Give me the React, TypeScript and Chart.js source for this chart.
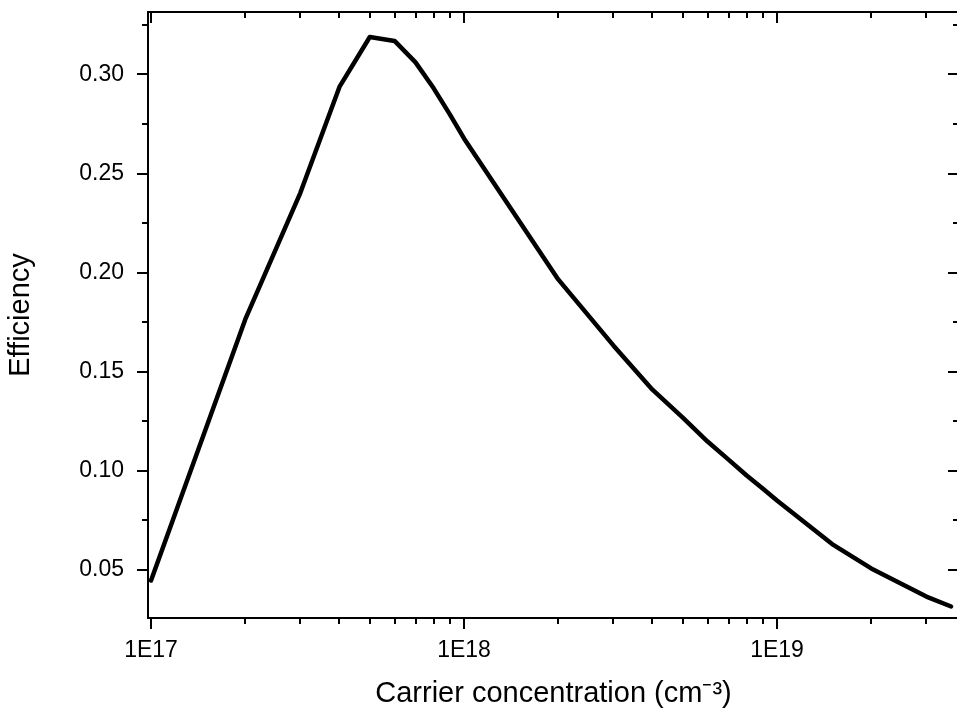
import React, { useEffect, useRef } from "react";
import { Chart, registerables } from "chart.js";

Chart.register(...registerables);

// Data
const CONCENTRATION = [
  1e17, 2e17, 3e17, 4e17, 5e17, 6e17, 7e17, 8e17, 9e17,
  1e18, 2e18, 3e18, 4e18, 5e18, 6e18, 7e18, 8e18, 9e18,
  1e19, 1.5e19, 2e19, 3e19, 3.6e19,
];
const EFFICIENCY = [
  0.0447, 0.1764, 0.2403, 0.2937, 0.3189, 0.3169, 0.3061, 0.2930, 0.2800,
  0.2677, 0.1966, 0.1633, 0.1410, 0.1269, 0.1148, 0.1057, 0.0977, 0.0911,
  0.0851, 0.0631, 0.0508, 0.0366, 0.0316,
];

// Axis ticks
const X_MINOR_TICKS = [
  2e17, 3e17, 4e17, 5e17, 6e17, 7e17, 8e17, 9e17,
  2e18, 3e18, 4e18, 5e18, 6e18, 7e18, 8e18, 9e18,
  2e19, 3e19,
];
const X_MAJOR_TICKS = [1e17, 1e18, 1e19];
const X_TICK_LABELS = ["1E17", "1E18", "1E19"];
const Y_MAJOR_TICKS = [0.05, 0.1, 0.15, 0.2, 0.25, 0.3];
const Y_TICK_LABELS = ["0.05", "0.10", "0.15", "0.20", "0.25", "0.30"];
const Y_MINOR_TICKS = [0.075, 0.125, 0.175, 0.225, 0.275, 0.325];

const X_MIN = 9.78e16;
const X_MAX = 3.815e19;
const Y_MIN = 0.0258;
const Y_MAX = 0.3315;

const X_TITLE = "Carrier concentration (cm\u207B\u00B3)";
const Y_TITLE = "Efficiency";

const FONT = "'Liberation Sans', Arial, Helvetica, sans-serif";

const framePlugin = {
  id: "originFrame",
  afterDatasetsDraw(chart: any) {
    const { ctx, chartArea, scales } = chart;
    const { left, right, top, bottom } = chartArea;
    const xs = scales.x;
    const ys = scales.y;
    ctx.save();
    ctx.strokeStyle = "#000";
    ctx.lineWidth = 2;
    ctx.lineCap = "butt";
    ctx.beginPath();
    ctx.rect(left, top, right - left, bottom - top);
    ctx.stroke();
    const seg = (x1: number, y1: number, x2: number, y2: number) => {
      ctx.beginPath();
      ctx.moveTo(x1, y1);
      ctx.lineTo(x2, y2);
      ctx.stroke();
    };
    const MAJ = 11;
    const MIN = 6;
    const xTick = (v: number, len: number) => {
      const px = Math.round(xs.getPixelForValue(v));
      seg(px, bottom, px, bottom + len);
      seg(px, top, px, top + len);
    };
    X_MAJOR_TICKS.forEach((v) => xTick(v, MAJ));
    X_MINOR_TICKS.forEach((v) => xTick(v, MIN));
    const yTick = (v: number, len: number) => {
      const py = Math.round(ys.getPixelForValue(v));
      seg(left - len, py, left, py);
      seg(right - len, py, right, py);
    };
    Y_MAJOR_TICKS.forEach((v) => yTick(v, MAJ));
    Y_MINOR_TICKS.forEach((v) => yTick(v, MIN));
    ctx.restore();
  },
};

export default function App() {
  const canvasRef = useRef<HTMLCanvasElement | null>(null);

  useEffect(() => {
    const canvas = canvasRef.current;
    if (!canvas) return;
    const chart = new Chart(canvas, {
      type: "line",
      data: {
        datasets: [
          {
            data: CONCENTRATION.map((c, i) => ({ x: c, y: EFFICIENCY[i] })),
            borderColor: "#000",
            borderWidth: 4.5,
            pointRadius: 0,
            tension: 0,
            fill: false,
            borderJoinStyle: "round",
            borderCapStyle: "round",
          },
        ],
      },
      options: {
        responsive: false,
        animation: false,
        devicePixelRatio: 1,
        layout: { padding: { left: 0, top: 12, right: 11, bottom: 0 } },
        plugins: {
          legend: { display: false },
          tooltip: { enabled: false },
        },
        scales: {
          x: {
            type: "logarithmic",
            position: "bottom",
            min: X_MIN,
            max: X_MAX,
            grid: { display: false, drawTicks: false },
            border: { display: false },
            afterBuildTicks: (scale: any) => {
              scale.ticks = X_MAJOR_TICKS.map((v) => ({ value: v, major: true }));
            },
            afterFit: (scale: any) => {
              scale.height = 101;
              scale.paddingLeft = 0;
              scale.paddingRight = 0;
            },
            ticks: {
              autoSkip: false,
              maxRotation: 0,
              minRotation: 0,
              padding: 19,
              color: "#000",
              font: { family: FONT, size: 23 },
              callback: (_v: any, i: number) => X_TICK_LABELS[i],
            },
            title: {
              display: true,
              text: X_TITLE,
              color: "#000",
              font: { family: FONT, size: 29 },
              padding: { top: 0, bottom: 8 },
            },
          },
          y: {
            type: "linear",
            position: "left",
            min: Y_MIN,
            max: Y_MAX,
            grid: { display: false, drawTicks: false },
            border: { display: false },
            afterBuildTicks: (scale: any) => {
              scale.ticks = Y_MAJOR_TICKS.map((v) => ({ value: v }));
            },
            afterFit: (scale: any) => {
              scale.width = 148;
              scale.paddingTop = 0;
              scale.paddingBottom = 0;
            },
            ticks: {
              autoSkip: false,
              padding: 24,
              color: "#000",
              font: { family: FONT, size: 23 },
              callback: (_v: any, i: number) => Y_TICK_LABELS[i],
            },
            title: {
              display: true,
              text: Y_TITLE,
              color: "#000",
              font: { family: FONT, size: 29 },
              padding: { top: 4, bottom: 0 },
            },
          },
        },
      },
      plugins: [framePlugin],
    });
    return () => chart.destroy();
  }, []);

  return (
    <div
      style={{
        position: "fixed",
        left: 0,
        top: 0,
        width: 957,
        height: 719,
        overflow: "hidden",
        background: "#fff",
      }}
    >
      <canvas
        ref={canvasRef}
        width={970}
        height={719}
        style={{ width: 970, height: 719, display: "block" }}
      />
    </div>
  );
}
